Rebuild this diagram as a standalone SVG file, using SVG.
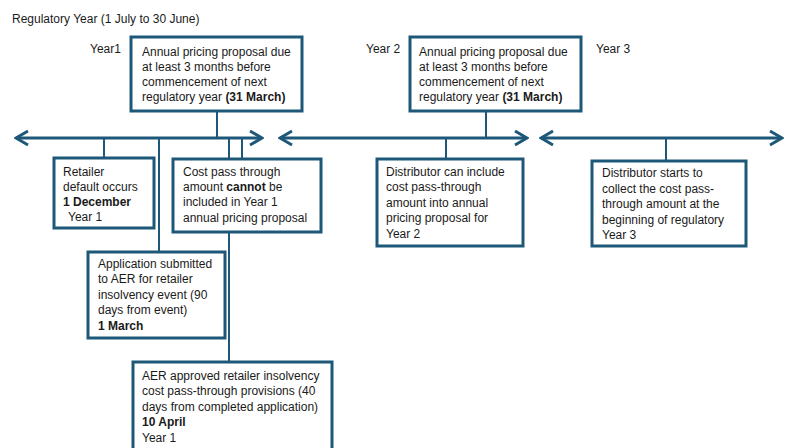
<svg xmlns="http://www.w3.org/2000/svg" width="785" height="448" viewBox="0 0 785 448">
  <style>
    text { font-family: "Liberation Sans", Arial, sans-serif; font-size: 12px; fill: #1a1a1a; }
    .b { font-weight: bold; }
    .box { fill: #ffffff; stroke: #1d5878; stroke-width: 3; }
    .axis { fill: none; stroke: #1d5878; stroke-width: 3; }
    .link { fill: none; stroke: #1d5878; stroke-width: 2; }
  </style>
  <defs>
    <marker id="chev" viewBox="0 0 16 18" refX="14" refY="9" markerWidth="16" markerHeight="18" markerUnits="userSpaceOnUse" orient="auto-start-reverse">
      <path d="M2,2 L14,9 L2,16" fill="none" stroke="#1d5878" stroke-width="3" stroke-linejoin="miter"/>
    </marker>
  </defs>

  <rect width="785" height="448" fill="#ffffff"/>

  <text x="12" y="23">Regulatory Year (1 July to 30 June)</text>
  <text x="90" y="53">Year1</text>
  <text x="366" y="53">Year 2</text>
  <text x="596" y="53">Year 3</text>

  <!-- timeline axes and leader lines -->
  <g id="connectors">
    <line class="axis" x1="16" y1="138" x2="262" y2="138" marker-start="url(#chev)" marker-end="url(#chev)"/>
    <line class="axis" x1="280" y1="138" x2="527" y2="138" marker-start="url(#chev)" marker-end="url(#chev)"/>
    <line class="axis" x1="541" y1="138" x2="782" y2="138" marker-start="url(#chev)" marker-end="url(#chev)"/>
    <line class="link" x1="217" y1="111" x2="217" y2="138"/>
    <line class="link" x1="486" y1="111" x2="486" y2="138"/>
    <line class="link" x1="104" y1="138" x2="104" y2="158"/>
    <line class="link" x1="159" y1="138" x2="159" y2="252"/>
    <line class="link" x1="229" y1="138" x2="229" y2="362"/>
    <line class="link" x1="242" y1="138" x2="242" y2="159"/>
    <line class="link" x1="446" y1="138" x2="446" y2="159"/>
    <line class="link" x1="666" y1="138" x2="666" y2="161"/>
  </g>

  <g id="proposal-year1">
    <rect class="box" x="131" y="37" width="171" height="74"/>
    <text x="142" y="56">Annual pricing proposal due</text>
    <text x="142" y="71">at least 3 months before</text>
    <text x="142" y="86">commencement of next</text>
    <text x="142" y="101">regulatory year <tspan class="b">(31 March)</tspan></text>
  </g>

  <g id="proposal-year2">
    <rect class="box" x="410" y="37" width="171" height="74"/>
    <text x="419" y="56">Annual pricing proposal due</text>
    <text x="419" y="71">at least 3 months before</text>
    <text x="419" y="86">commencement of next</text>
    <text x="419" y="101">regulatory year <tspan class="b">(31 March)</tspan></text>
  </g>

  <g id="retailer-default">
    <rect class="box" x="54" y="158" width="100" height="70"/>
    <text x="63" y="176">Retailer</text>
    <text x="63" y="191">default occurs</text>
    <text x="63" y="206" class="b">1 December</text>
    <text x="68" y="221">Year 1</text>
  </g>

  <g id="cannot-include">
    <rect class="box" x="173" y="159" width="148" height="73"/>
    <text x="183" y="176">Cost pass through</text>
    <text x="183" y="191">amount <tspan class="b">cannot</tspan> be</text>
    <text x="183" y="206">included in Year 1</text>
    <text x="183" y="222">annual pricing proposal</text>
  </g>

  <g id="application">
    <rect class="box" x="88" y="252" width="137" height="86"/>
    <text x="98" y="268">Application submitted</text>
    <text x="98" y="283">to AER for retailer</text>
    <text x="98" y="299">insolvency event (90</text>
    <text x="98" y="314">days from event)</text>
    <text x="98" y="330" class="b">1 March</text>
  </g>

  <g id="aer-approval">
    <rect class="box" x="133" y="362" width="199" height="100"/>
    <text x="142" y="380">AER approved retailer insolvency</text>
    <text x="142" y="395">cost pass-through provisions (40</text>
    <text x="142" y="411">days from completed application)</text>
    <text x="142" y="426" class="b">10 April</text>
    <text x="142" y="442">Year 1</text>
  </g>

  <g id="distributor-include">
    <rect class="box" x="377" y="159" width="146" height="87"/>
    <text x="386" y="176">Distributor can include</text>
    <text x="386" y="191">cost pass-through</text>
    <text x="386" y="207">amount into annual</text>
    <text x="386" y="222">pricing proposal for</text>
    <text x="386" y="238">Year 2</text>
  </g>

  <g id="distributor-collect">
    <rect class="box" x="592" y="161" width="154" height="85"/>
    <text x="602" y="177">Distributor starts to</text>
    <text x="602" y="193">collect the cost pass-</text>
    <text x="602" y="208">through amount at the</text>
    <text x="602" y="224">beginning of regulatory</text>
    <text x="602" y="239">Year 3</text>
  </g>
</svg>
